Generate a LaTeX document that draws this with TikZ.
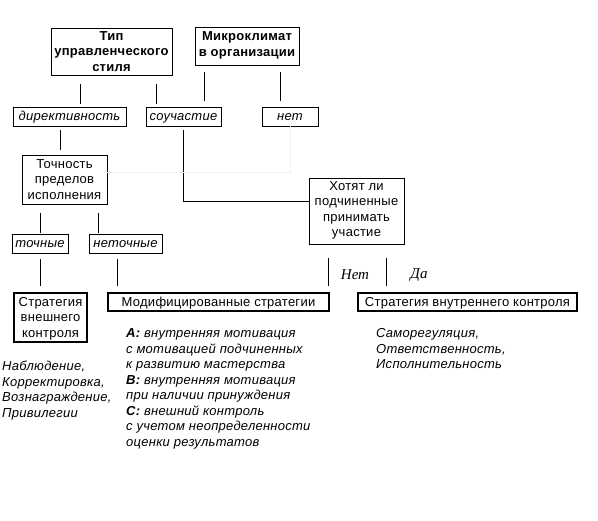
\documentclass[tikz,border=0pt]{standalone}
\usepackage{fontspec}
\setmainfont[LetterSpace=2]{Liberation Sans}
\newfontfamily\serifcyr{Liberation Serif}
\begin{document}
\begin{tikzpicture}[x = 1pt, y = -1pt,
  box/.style = {draw, line width = 0.8pt, align = center, inner sep = 0pt, font = \fontsize{13}{15.5}\selectfont},
  tag/.style = {draw, line width = 0.8pt, inner sep = 0pt, minimum height = 19pt, text height = 11pt, text depth = 2pt, font = \fontsize{13}{14}\selectfont\itshape},
  strat/.style = {draw, line width = 2pt, align = center, inner sep = 0pt, font = \fontsize{13}{15.5}\selectfont},
  lines1/.style = {text height = 11pt, text depth = 2pt},
  lines2/.style = {text height = 25.5pt, text depth = 4.7pt},
  lines3/.style = {text height = 41pt, text depth = 1.2pt},
  lines4/.style = {text height = 56.5pt, text depth = 5.3pt},
  heading/.style = {font = \fontsize{13}{15.5}\selectfont\bfseries},
  link/.style = {line width = 0.8pt},
  faint/.style = {gray!12, line width = 0.5pt},
  answer/.style = {font = \serifcyr\itshape\fontsize{15}{17}\selectfont},
  txt/.style = {anchor = north west, align = left, inner sep = 0pt, font = \fontsize{13}{15.5}\selectfont\itshape}]
\useasboundingbox (0,0) rectangle (598,521);
% top row
\node[box, heading, lines3, minimum width = 121pt, minimum height = 47pt] at (111.5,51.5) (tip) {Тип\\управленческого\\стиля};
\node[box, heading, lines2, minimum width = 104pt, minimum height = 38pt] at (247,46) (micro) {Микроклимат\\в организации};
% answers
\node[tag, minimum width = 113pt] at (69.5,116.5) (dir) {директивность};
\node[tag, minimum width = 75pt] at (183.5,116.5) (sou) {соучастие};
\node[tag, minimum width = 56pt] at (290,116.5) (net) {нет};
\node[box, lines3, minimum width = 85pt, minimum height = 49pt] at (64.5,179.5) (toch) {Точность\\пределов\\исполнения};
\node[box, lines4, minimum width = 95pt, minimum height = 66pt] at (356.5,211) (hot) {Хотят ли\\подчиненные\\принимать\\участие};
\node[tag, minimum width = 56pt] at (40,243.5) (tochn) {точные};
\node[tag, minimum width = 73pt] at (125.5,243.5) (netochn) {неточные};
\node[answer] at (355,275) (no) {Нет};
\node[answer] at (419,275) (yes) {Да};
% strategies
\node[strat, lines3, minimum width = 73pt, minimum height = 49pt] at (50.5,317.5) (ext) {Стратегия\\внешнего\\контроля};
\node[strat, lines1, minimum width = 221pt, minimum height = 18pt] at (218.5,302) (mod) {Модифицированные стратегии};
\node[strat, lines1, minimum width = 219pt, minimum height = 18pt] at (467.5,302) (int) {Стратегия внутреннего контроля};
\node[txt] at (2,361) (obs) {Наблюдение,\\Корректировка,\\Вознаграждение,\\Привилегии};
\node[txt] at (126,328.5) (abc) {\textbf{A:} внутренняя мотивация\\с мотивацией подчиненных\\к развитию мастерства\\\textbf{B:} внутренняя мотивация\\при наличии принуждения\\\textbf{C:} внешний контроль\\с учетом неопределенности\\оценки результатов};
\node[txt] at (376,328.5) (self) {Саморегуляция,\\Ответственность,\\Исполнительность};
% connectors
\draw[link, shorten < = 9pt, shorten > = 3pt] ([xshift = 10.5pt]dir.north |- tip.south) -- ([xshift = 10.5pt]dir.north);
\draw[link, shorten < = 9pt, shorten > = 3pt] ([xshift = -27.5pt]sou.north |- tip.south) -- ([xshift = -27.5pt]sou.north);
\draw[link, shorten < = 7pt, shorten > = 6pt] ([xshift = -43pt]micro.south) -- ([xshift = -43pt]micro.south |- sou.north);
\draw[link, shorten < = 7pt, shorten > = 6pt] ([xshift = -10pt]net.north |- micro.south) -- ([xshift = -10pt]net.north);
\draw[link, shorten < = 4pt, shorten > = 5pt] ([xshift = -9.5pt]dir.south) -- ([xshift = -9.5pt]dir.south |- toch.north);
\draw[link, shorten < = 4pt] (sou.south) |- ([yshift = 10pt]hot.west);
\draw[faint] (net.south) |- ([yshift = 7.5pt]toch.east);
\draw[link, shorten < = 9pt, shorten > = 1pt] (tochn.north |- toch.south) -- (tochn.north);
\draw[link, shorten < = 9pt, shorten > = 1pt] ([xshift = -27.5pt]netochn.north |- toch.south) -- ([xshift = -27.5pt]netochn.north);
\draw[link, shorten < = 6pt, shorten > = 6pt] (tochn.south) -- (tochn.south |- ext.north);
\draw[link, shorten < = 6pt, shorten > = 6pt] ([xshift = -8.5pt]netochn.south) -- ([xshift = -8.5pt]netochn.south |- mod.north);
\draw[link, shorten < = 14pt, shorten > = 6pt] ([xshift = -28.5pt]hot.south) -- ([xshift = -28.5pt]hot.south |- mod.north);
\draw[link, shorten < = 14pt, shorten > = 6pt] ([xshift = 29.5pt]hot.south) -- ([xshift = 29.5pt]hot.south |- int.north);
\end{tikzpicture}
\end{document}
